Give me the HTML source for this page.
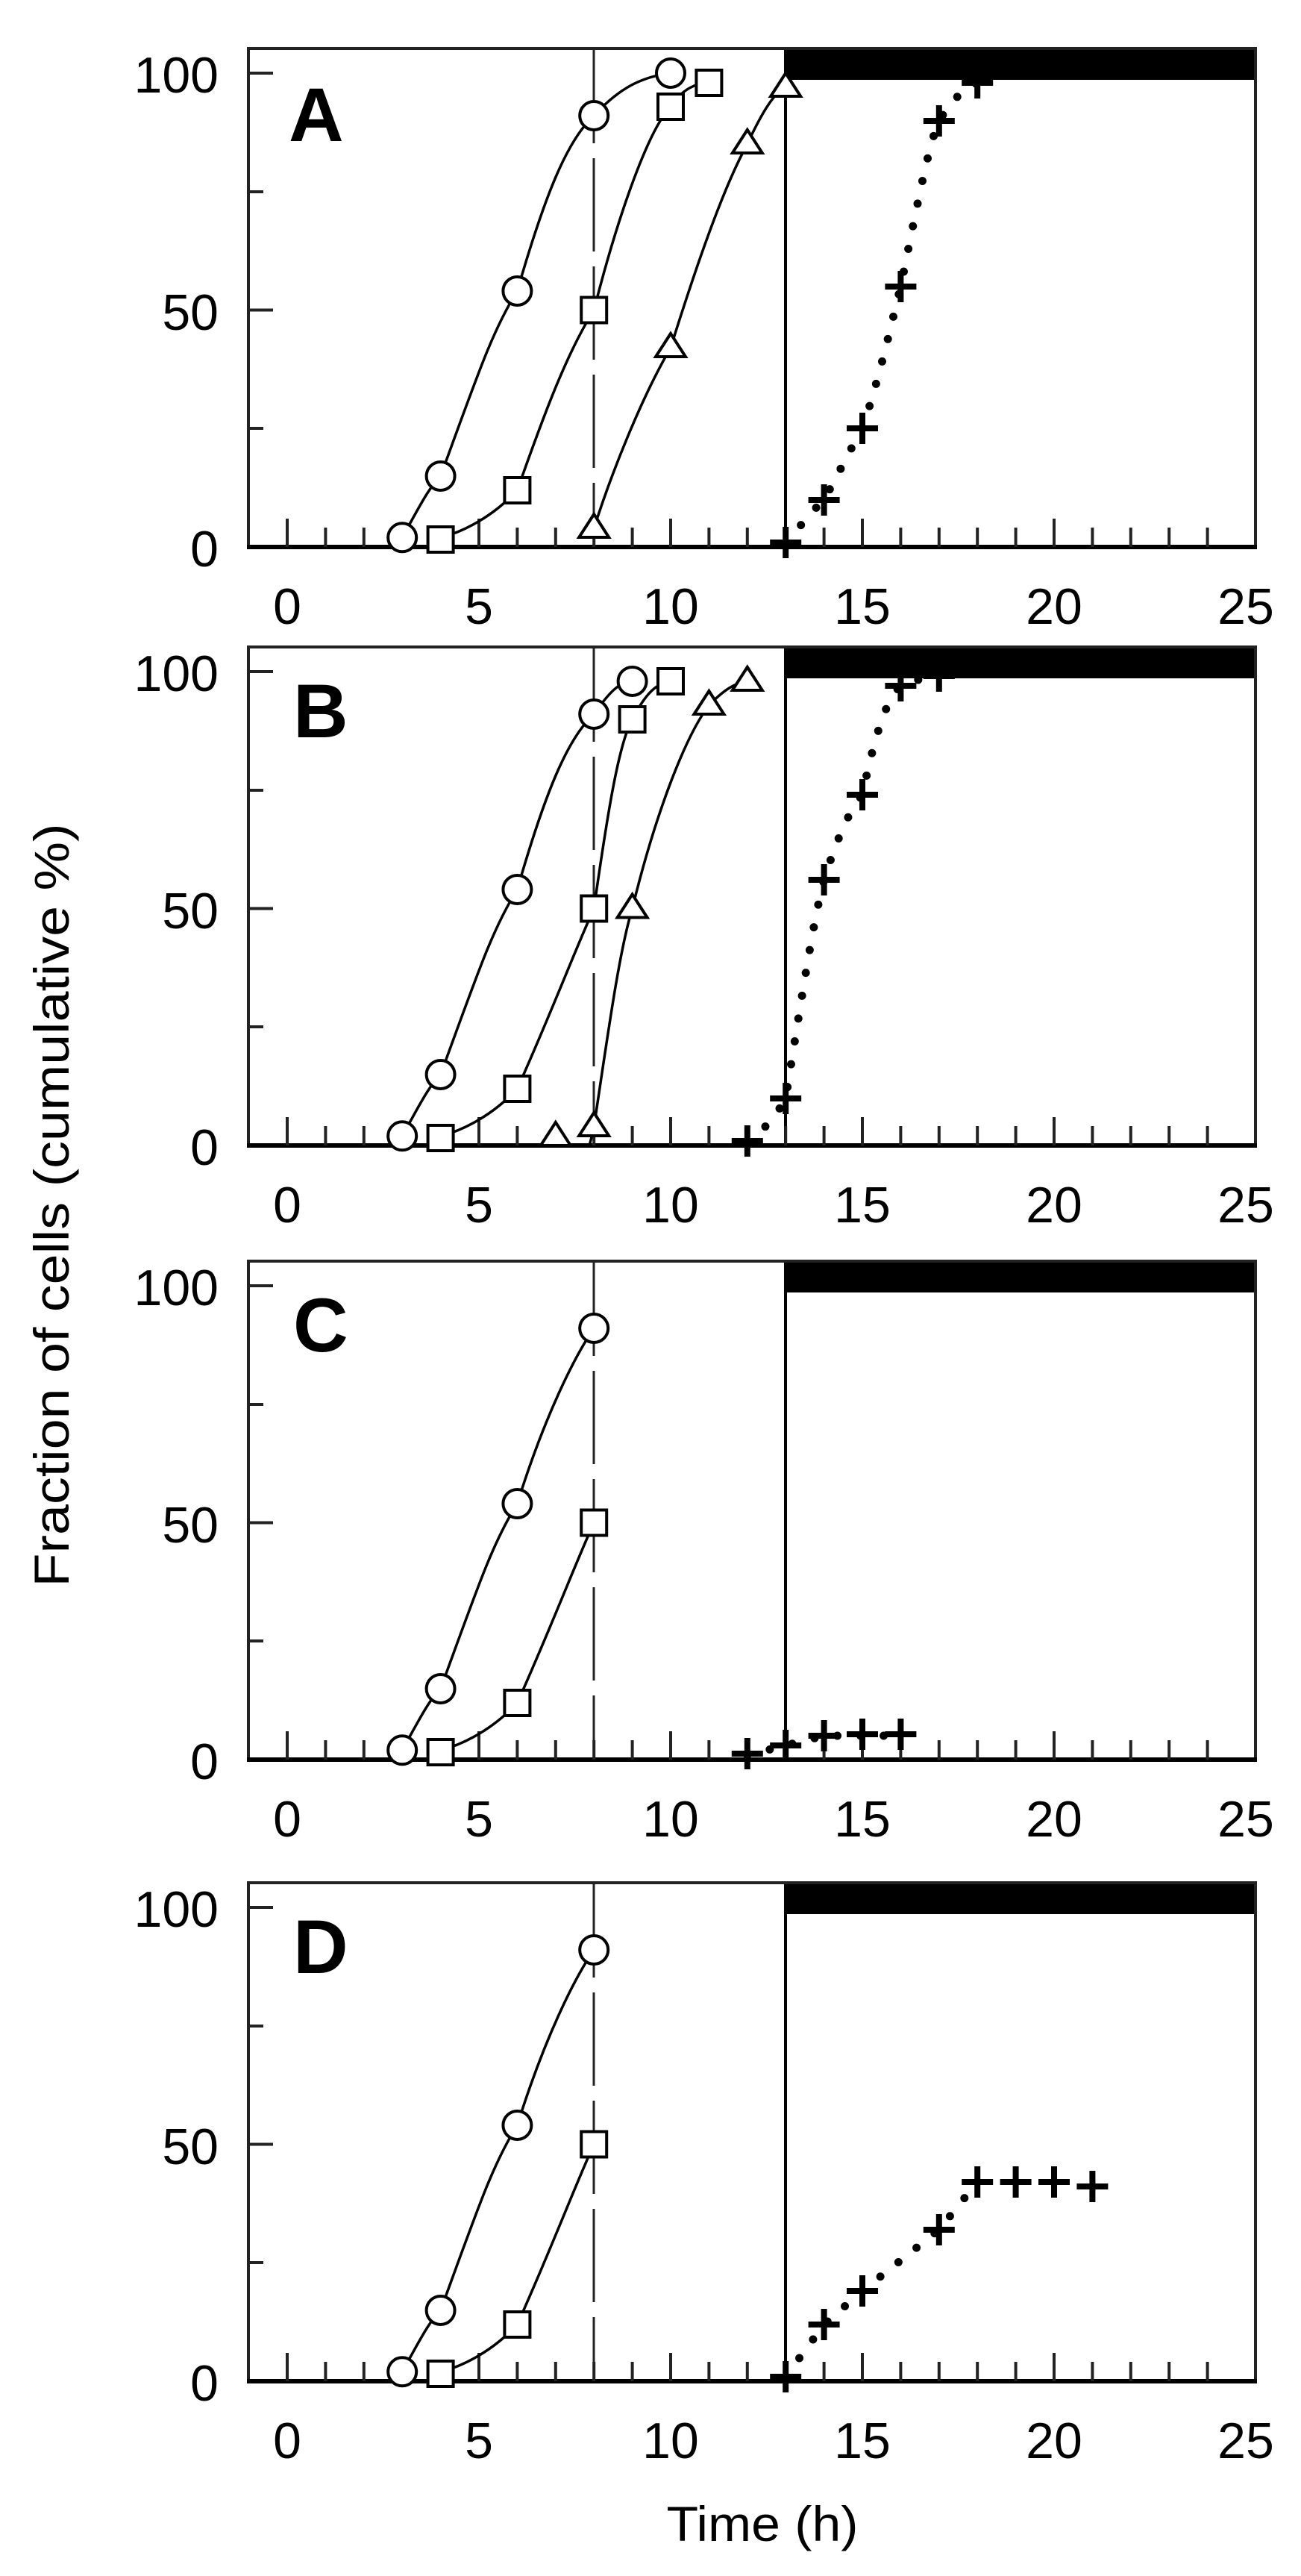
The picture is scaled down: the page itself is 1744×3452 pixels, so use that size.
<!DOCTYPE html>
<html><head><meta charset="utf-8"><style>
html,body{margin:0;padding:0;background:#fff;}
svg{display:block;}
text{font-family:"Liberation Sans",Arial,sans-serif;fill:#000;}
</style></head><body>
<svg width="1744" height="3452" viewBox="0 0 1744 3452" xmlns="http://www.w3.org/2000/svg">
<defs>
<g id="axes">
  <rect x="1053" y="-668" width="630" height="42" fill="#000"/>
  <line x1="796" y1="-666" x2="796" y2="0" stroke="#222" stroke-width="3" stroke-dasharray="125 20"/>
  <line x1="1053" y1="-668" x2="1053" y2="0" stroke="#000" stroke-width="4"/>
  <rect x="333" y="-668" width="1350" height="668" fill="none" stroke="#222" stroke-width="4"/>
  <line x1="331" y1="0" x2="1685" y2="0" stroke="#000" stroke-width="6"/>
  <g stroke="#222" stroke-width="4">
    <line x1="385" y1="0" x2="385" y2="-38"/><line x1="436.4" y1="0" x2="436.4" y2="-26"/><line x1="487.8" y1="0" x2="487.8" y2="-26"/><line x1="539.2" y1="0" x2="539.2" y2="-26"/><line x1="590.6" y1="0" x2="590.6" y2="-26"/>
    <line x1="642" y1="0" x2="642" y2="-38"/><line x1="693.4" y1="0" x2="693.4" y2="-26"/><line x1="744.8" y1="0" x2="744.8" y2="-26"/><line x1="796.2" y1="0" x2="796.2" y2="-26"/><line x1="847.6" y1="0" x2="847.6" y2="-26"/>
    <line x1="899" y1="0" x2="899" y2="-38"/><line x1="950.4" y1="0" x2="950.4" y2="-26"/><line x1="1001.8" y1="0" x2="1001.8" y2="-26"/><line x1="1053.2" y1="0" x2="1053.2" y2="-26"/><line x1="1104.6" y1="0" x2="1104.6" y2="-26"/>
    <line x1="1156" y1="0" x2="1156" y2="-38"/><line x1="1207.4" y1="0" x2="1207.4" y2="-26"/><line x1="1258.8" y1="0" x2="1258.8" y2="-26"/><line x1="1310.2" y1="0" x2="1310.2" y2="-26"/><line x1="1361.6" y1="0" x2="1361.6" y2="-26"/>
    <line x1="1413" y1="0" x2="1413" y2="-38"/><line x1="1464.4" y1="0" x2="1464.4" y2="-26"/><line x1="1515.8" y1="0" x2="1515.8" y2="-26"/><line x1="1567.2" y1="0" x2="1567.2" y2="-26"/><line x1="1618.6" y1="0" x2="1618.6" y2="-26"/>
    <line x1="333" y1="-635" x2="366" y2="-635"/><line x1="333" y1="-476" x2="353" y2="-476"/><line x1="333" y1="-317.5" x2="366" y2="-317.5"/><line x1="333" y1="-159" x2="353" y2="-159"/>
  </g>
</g>
<circle id="ci" r="19" fill="#fff" stroke="#000" stroke-width="4"/>
<rect id="sq" x="-17" y="-17" width="34" height="34" fill="#fff" stroke="#000" stroke-width="4"/>
<path id="tr" d="M0,-19 L20,12 L-20,12 Z" fill="#fff" stroke="#000" stroke-width="4" stroke-linejoin="miter"/>
<path id="cr" d="M-21,0 H21 M0,-21 V21" stroke="#000" stroke-width="8" fill="none"/>
</defs>

<!-- Y axis title -->
<text x="0" y="0" font-size="66" text-anchor="middle" textLength="1023" lengthAdjust="spacingAndGlyphs" transform="translate(92,1615) rotate(-90)">Fraction of cells (cumulative %)</text>
<!-- X axis title -->
<text x="1022" y="3405" font-size="66" text-anchor="middle" textLength="257" lengthAdjust="spacingAndGlyphs">Time (h)</text>

<!-- Panel A -->
<g transform="translate(0,733)">
<use href="#axes"/>
<g font-size="68" text-anchor="middle">
<text x="385" y="103">0</text><text x="642" y="103">5</text><text x="899" y="103">10</text><text x="1156" y="103">15</text><text x="1413" y="103">20</text><text x="1670" y="103">25</text>
</g>
<g font-size="68" text-anchor="end">
<text x="293" y="26">0</text><text x="293" y="-291">50</text><text x="293" y="-609">100</text>
</g>
<text x="387" y="-544" font-size="102" font-weight="bold">A</text>
<g fill="none" stroke="#000" stroke-width="3.5" stroke-linejoin="round">
<path d="M539.2,-12.7 C560,-50 575,-80 590.6,-95 C640,-230 660,-290 693.4,-343 C730,-470 760,-545 796.2,-578 C830,-615 860,-630 899,-635"/>
<path d="M590.6,-12.7 C620,-20 660,-40 693.4,-76 C730,-180 760,-260 796.2,-317.5 C830,-450 870,-560 899,-590 C915,-615 935,-622 950.4,-622"/>
<path d="M796.2,-25 C820,-100 860,-200 899,-267 C950,-430 980,-500 1001.8,-540 C1025,-590 1040,-610 1053,-616"/>
</g>
<path d="M1053.2,-6 C1075,-30 1090,-50 1104.6,-63 C1130,-110 1145,-140 1156,-159 C1180,-230 1195,-300 1207.4,-349 C1230,-460 1245,-540 1258.8,-571 C1280,-605 1295,-615 1310.2,-622" fill="none" stroke="#000" stroke-width="11" stroke-linecap="round" stroke-dasharray="0 31"/>
<use href="#ci" x="539.2" y="-12.7"/><use href="#ci" x="590.6" y="-95"/><use href="#ci" x="693.4" y="-343"/><use href="#ci" x="796.2" y="-578"/><use href="#ci" x="899" y="-635"/>
<use href="#sq" x="590.6" y="-10"/><use href="#sq" x="693.4" y="-76"/><use href="#sq" x="796.2" y="-317.5"/><use href="#sq" x="899" y="-590"/><use href="#sq" x="950.4" y="-622"/>
<use href="#tr" x="796.2" y="-25"/><use href="#tr" x="899" y="-267"/><use href="#tr" x="1001.8" y="-540"/><use href="#tr" x="1053.2" y="-616"/>
<use href="#cr" x="1053.2" y="-6"/><use href="#cr" x="1104.6" y="-63"/><use href="#cr" x="1156" y="-159"/><use href="#cr" x="1207.4" y="-349"/><use href="#cr" x="1258.8" y="-571"/><use href="#cr" x="1310.2" y="-622"/>
</g>

<!-- Panel B -->
<g transform="translate(0,1535)">
<use href="#axes"/>
<g font-size="68" text-anchor="middle">
<text x="385" y="103">0</text><text x="642" y="103">5</text><text x="899" y="103">10</text><text x="1156" y="103">15</text><text x="1413" y="103">20</text><text x="1670" y="103">25</text>
</g>
<g font-size="68" text-anchor="end">
<text x="293" y="26">0</text><text x="293" y="-291">50</text><text x="293" y="-609">100</text>
</g>
<text x="393" y="-547" font-size="102" font-weight="bold">B</text>
<g fill="none" stroke="#000" stroke-width="3.5" stroke-linejoin="round">
<path d="M539.2,-12.7 C560,-50 575,-80 590.6,-95 C640,-230 660,-290 693.4,-343 C730,-470 760,-545 796.2,-578 C815,-605 830,-622 847.6,-622"/>
<path d="M590.6,-12.7 C620,-20 660,-40 693.4,-76 C740,-180 770,-260 796.2,-317.5 C815,-450 830,-540 847.6,-571 C865,-605 880,-620 899,-622"/>
<path d="M790,0 C793,-10 795,-20 796.2,-25 C815,-150 830,-260 847.6,-317.5 C880,-450 920,-550 950.4,-590 C970,-610 985,-620 1001.8,-622"/>
</g>
<path d="M1001.8,-6 C1025,-20 1040,-40 1053.2,-63 C1075,-200 1090,-300 1104.6,-356 C1125,-420 1140,-450 1156,-470 C1175,-560 1190,-600 1207.4,-616 C1230,-625 1245,-628 1258.8,-629" fill="none" stroke="#000" stroke-width="11" stroke-linecap="round" stroke-dasharray="0 31"/>
<use href="#ci" x="539.2" y="-12.7"/><use href="#ci" x="590.6" y="-95"/><use href="#ci" x="693.4" y="-343"/><use href="#ci" x="796.2" y="-578"/><use href="#ci" x="847.6" y="-622"/>
<use href="#sq" x="590.6" y="-10"/><use href="#sq" x="693.4" y="-76"/><use href="#sq" x="796.2" y="-317.5"/><use href="#sq" x="847.6" y="-571"/><use href="#sq" x="899" y="-622"/>
<use href="#tr" x="744.8" y="-12"/><use href="#tr" x="796.2" y="-25"/><use href="#tr" x="847.6" y="-317.5"/><use href="#tr" x="950.4" y="-590"/><use href="#tr" x="1001.8" y="-622"/>
<use href="#cr" x="1001.8" y="-6"/><use href="#cr" x="1053.2" y="-63"/><use href="#cr" x="1104.6" y="-356"/><use href="#cr" x="1156" y="-470"/><use href="#cr" x="1207.4" y="-616"/><use href="#cr" x="1258.8" y="-629"/>
</g>

<!-- Panel C -->
<g transform="translate(0,2358)">
<use href="#axes"/>
<g font-size="68" text-anchor="middle">
<text x="385" y="103">0</text><text x="642" y="103">5</text><text x="899" y="103">10</text><text x="1156" y="103">15</text><text x="1413" y="103">20</text><text x="1670" y="103">25</text>
</g>
<g font-size="68" text-anchor="end">
<text x="293" y="26">0</text><text x="293" y="-291">50</text><text x="293" y="-609">100</text>
</g>
<text x="393" y="-547" font-size="102" font-weight="bold">C</text>
<g fill="none" stroke="#000" stroke-width="3.5" stroke-linejoin="round">
<path d="M539.2,-12.7 C560,-50 575,-80 590.6,-95 C640,-230 660,-290 693.4,-343 C730,-460 770,-540 796.2,-578"/>
<path d="M590.6,-12.7 C620,-20 660,-40 693.4,-76 C740,-180 770,-260 796.2,-317.5"/>
</g>
<path d="M1001.8,-6 L1053.2,-19 L1104.6,-32 L1207.4,-32" fill="none" stroke="#000" stroke-width="11" stroke-linecap="round" stroke-dasharray="0 31"/>
<use href="#ci" x="539.2" y="-12.7"/><use href="#ci" x="590.6" y="-95"/><use href="#ci" x="693.4" y="-343"/><use href="#ci" x="796.2" y="-578"/>
<use href="#sq" x="590.6" y="-10"/><use href="#sq" x="693.4" y="-76"/><use href="#sq" x="796.2" y="-317.5"/>
<use href="#cr" x="1001.8" y="-8"/><use href="#cr" x="1053.2" y="-19"/><use href="#cr" x="1104.6" y="-32"/><use href="#cr" x="1156" y="-34"/><use href="#cr" x="1207.4" y="-34"/>
</g>

<!-- Panel D -->
<g transform="translate(0,3191)">
<use href="#axes"/>
<g font-size="68" text-anchor="middle">
<text x="385" y="103">0</text><text x="642" y="103">5</text><text x="899" y="103">10</text><text x="1156" y="103">15</text><text x="1413" y="103">20</text><text x="1670" y="103">25</text>
</g>
<g font-size="68" text-anchor="end">
<text x="293" y="26">0</text><text x="293" y="-291">50</text><text x="293" y="-609">100</text>
</g>
<text x="393" y="-547" font-size="102" font-weight="bold">D</text>
<g fill="none" stroke="#000" stroke-width="3.5" stroke-linejoin="round">
<path d="M539.2,-12.7 C560,-50 575,-80 590.6,-95 C640,-230 660,-290 693.4,-343 C730,-460 770,-540 796.2,-578"/>
<path d="M590.6,-12.7 C620,-20 660,-40 693.4,-76 C740,-180 770,-260 796.2,-317.5"/>
</g>
<path d="M1053.2,-6 L1104.6,-76 L1156,-121 L1258.8,-203 L1310.2,-267" fill="none" stroke="#000" stroke-width="11" stroke-linecap="round" stroke-dasharray="0 31"/>
<use href="#ci" x="539.2" y="-12.7"/><use href="#ci" x="590.6" y="-95"/><use href="#ci" x="693.4" y="-343"/><use href="#ci" x="796.2" y="-578"/>
<use href="#sq" x="590.6" y="-10"/><use href="#sq" x="693.4" y="-76"/><use href="#sq" x="796.2" y="-317.5"/>
<use href="#cr" x="1053.2" y="-6"/><use href="#cr" x="1104.6" y="-76"/><use href="#cr" x="1156" y="-121"/><use href="#cr" x="1258.8" y="-203"/><use href="#cr" x="1310.2" y="-267"/><use href="#cr" x="1361.6" y="-267"/><use href="#cr" x="1413" y="-267"/><use href="#cr" x="1464.4" y="-261"/>
</g>
</svg>
</body></html>
